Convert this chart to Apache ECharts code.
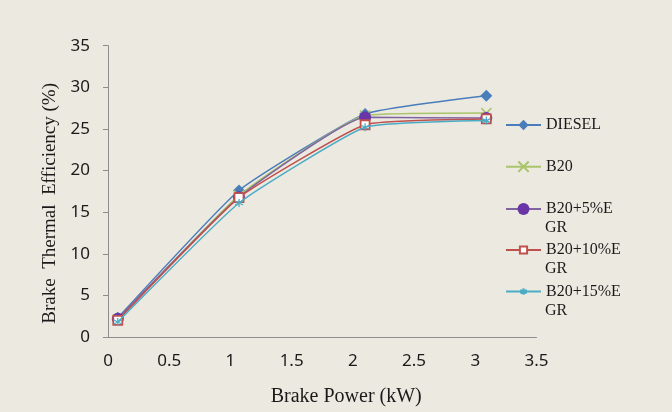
<!DOCTYPE html>
<html>
<head>
<meta charset="utf-8">
<script src="https://cdn.jsdelivr.net/npm/echarts@6/dist/echarts.min.js"></script>
<style>
html,body{margin:0;padding:0;background:#ECE9E0;}
#c{width:672px;height:412px;}
</style>
</head>
<body>
<div id="c"></div>
<script>
// Data
const brakePower = [0.08, 1.07, 2.1, 3.09];
const diesel = [2.3, 17.6, 26.8, 29.0];
const b20 = [2.1, 17.0, 26.6, 26.9];
const b20egr5 = [2.2, 16.8, 26.4, 26.3];
const b20egr10 = [2.0, 16.75, 25.5, 26.2];
const b20egr15 = [1.8, 16.1, 25.2, 26.0];
const seriesNames = ['DIESEL', 'B20', 'B20+5%EGR', 'B20+10%EGR', 'B20+15%EGR'];
const legendFirstLines = ['DIESEL', 'B20', 'B20+5%E', 'B20+10%E', 'B20+15%E'];
const legendSecondLines = ['', '', 'GR', 'GR', 'GR'];
const yTitle = 'Brake  Thermal  Efficiency (%)';
const xTitle = 'Brake Power (kW)';

const pairs = arr => arr.map((v, i) => [brakePower[i], v]);
const serif = '"Liberation Serif", "Times New Roman", serif';
const sans = '"Noto Sans", "Open Sans", sans-serif';

const styles = [
  {line: '#4A7EBB', symbol: 'diamond', size: 12, item: {color: '#4A7EBB'}, lh: 13},
  {line: '#A9C46A', symbol: 'path://M0 0L10 10M10 0L0 10', size: 10, item: {color: '#A9C46A', borderColor: '#A9C46A', borderWidth: 1.5}, lh: 13},
  {line: '#8064A2', symbol: 'circle', size: 12, item: {color: '#6A35A6'}, lh: 15},
  {line: '#C0504D', symbol: 'rect', size: 9, item: {color: '#ffffff', borderColor: '#C0504D', borderWidth: 1.8}, lh: 9},
  {line: '#4BACC6', symbol: 'path://M5 0L5 10M0 2.5L10 7.5M0 7.5L10 2.5', size: 8, item: {color: '#4BACC6', borderColor: '#4BACC6', borderWidth: 1.3}, lh: 8}
];
const dataSets = [diesel, b20, b20egr5, b20egr10, b20egr15];
const legendY = [125, 166.7, 209, 250, 291.5];

const series = dataSets.map((d, i) => ({
  name: seriesNames[i],
  type: 'line',
  data: pairs(d),
  smooth: 0.13,
  symbol: styles[i].symbol,
  symbolSize: styles[i].size,
  lineStyle: {color: styles[i].line, width: 1.5},
  itemStyle: styles[i].item,
  z: 2 + i
}));

const legends = seriesNames.map((n, i) => ({
  data: [n],
  left: 505,
  top: legendY[i] - 9,
  orient: 'vertical',
  itemWidth: 35,
  itemHeight: styles[i].lh,
  itemGap: 0,
  padding: 0,
  selectedMode: false,
  formatter: () => legendFirstLines[i],
  textStyle: {fontFamily: serif, fontSize: 16, color: '#1a1a1a', lineHeight: 18}
}));

const graphics = legendSecondLines.map((t, i) => t ? ({
  type: 'text',
  left: 545,
  top: legendY[i] + 11,
  style: {text: t, font: '16px ' + serif, fill: '#1a1a1a'}
}) : null).filter(Boolean);

const chart = echarts.init(document.getElementById('c'), null, {renderer: 'canvas'});
chart.setOption({
  backgroundColor: '#ECE9E0',
  animation: false,
  grid: {left: 108, right: 135.5, top: 45.7, bottom: 73},
  legend: legends,
  graphic: graphics,
  xAxis: {
    type: 'value',
    min: 0, max: 3.5, interval: 0.5,
    name: xTitle,
    nameLocation: 'middle',
    nameGap: 50,
    nameTextStyle: {fontFamily: serif, fontSize: 20, color: '#1a1a1a', padding: [0, 0, 0, 48]},
    axisLine: {lineStyle: {color: '#8c8c8c', width: 1}},
    axisTick: {show: false},
    splitLine: {show: false},
    axisLabel: {fontFamily: sans, fontSize: 17, color: '#1a1a1a', margin: 16}
  },
  yAxis: {
    type: 'value',
    min: 0, max: 35, interval: 5,
    name: yTitle,
    nameLocation: 'middle',
    nameGap: 48,
    nameTextStyle: {fontFamily: serif, fontSize: 19, color: '#1a1a1a', padding: [0, 24, 0, 0]},
    axisLine: {show: true, lineStyle: {color: '#8c8c8c', width: 1}},
    axisTick: {show: true, length: 5, lineStyle: {color: '#8c8c8c'}},
    splitLine: {show: false},
    axisLabel: {fontFamily: sans, fontSize: 17, color: '#1a1a1a', margin: 18}
  },
  series: series
});
</script>
</body>
</html>
